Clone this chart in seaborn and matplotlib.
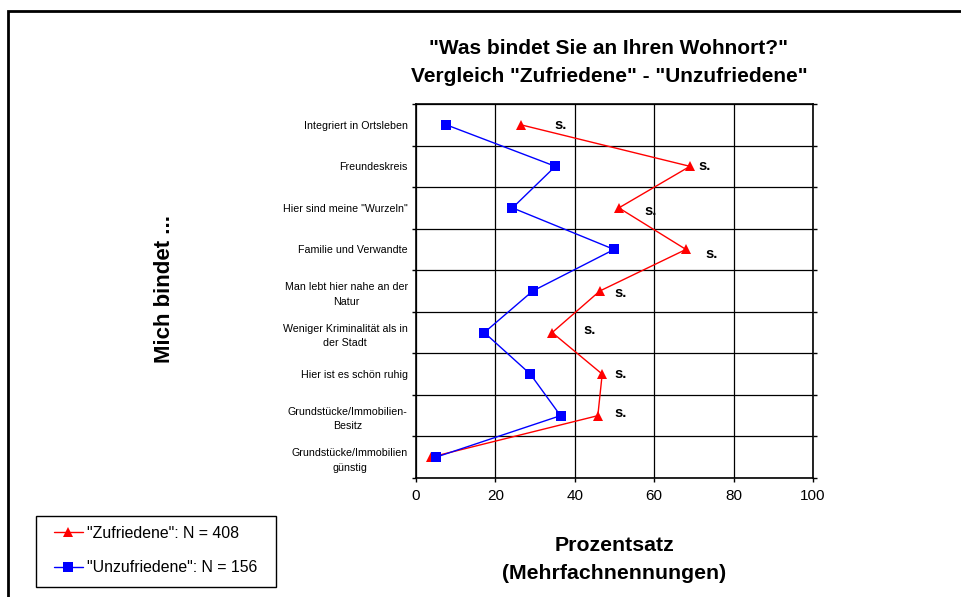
import numpy as np
import pandas as pd
import matplotlib.pyplot as plt
import seaborn as sns
from matplotlib.patches import Rectangle

# data
categories = ["Integriert in Ortsleben", "Freundeskreis", 'Hier sind meine "Wurzeln"',
              "Familie und Verwandte", "Man lebt hier nahe an der\nNatur",
              "Weniger Kriminalität als in\nder Stadt", "Hier ist es schön ruhig",
              "Grundstücke/Immobilien-\nBesitz", "Grundstücke/Immobilien\ngünstig"]
zufriedene = [26.4, 69.0, 51.1, 68.0, 46.3, 34.3, 46.9, 45.8, 3.7]
unzufriedene = [7.6, 35.1, 24.3, 49.9, 29.4, 17.2, 28.8, 36.4, 5.0]
signif = ["s.", "s.", "s.", "s.", "s.", "s.", "s.", "s.", ""]
label_z = '"Zufriedene": N = 408'
label_u = '"Unzufriedene": N = 156'
xticks = [0, 20, 40, 60, 80, 100]

# where the "s." marks sit (left edge in percent, small shift in rows)
sig_x = [34.8, 71.1, 57.5, 72.8, 50.1, 42.1, 50.0, 50.0, 0]
sig_dy = [0.0, 0.0, 0.08, 0.1, 0.05, -0.07, 0.0, -0.07, 0]

sns.set_theme(style="white")
plt.rcParams['font.family'] = ['Liberation Sans', 'DejaVu Sans']
plt.rcParams['text.color'] = 'black'
plt.rcParams['xtick.color'] = 'black'
plt.rcParams['ytick.color'] = 'black'
plt.rcParams['axes.labelcolor'] = 'black'

df = pd.DataFrame({
    "wert": zufriedene + unzufriedene,
    "pos": list(range(len(categories))) * 2,
    "gruppe": [label_z] * len(categories) + [label_u] * len(categories),
})

fig = plt.figure(figsize=(9.62, 5.97), dpi=100)
ax = fig.add_axes([416 / 962, 119 / 597, 397 / 962, 374 / 597])

sns.lineplot(data=df, x="wert", y="pos", hue="gruppe", style="gruppe",
             palette={label_z: "#ff0000", label_u: "#0000ff"},
             markers={label_z: "^", label_u: "s"}, dashes=False,
             estimator=None, sort=False, linewidth=1, markersize=7,
             markeredgewidth=0, ax=ax)

ax.set_xlim(0, 100)
ax.set_ylim(len(categories) - 0.5, -0.5)
ax.set_xticks(xticks)
ax.set_xticklabels([str(t) for t in xticks], fontsize=11)
ax.set_yticks(range(len(categories)))
ax.set_yticklabels(categories, fontsize=7.7)
for lab in ax.get_yticklabels():
    lab.set_multialignment('center')
    lab.set_linespacing(1.6)
ax.set_yticks(np.arange(-0.5, len(categories)), minor=True)
ax.set_xlabel("")
ax.set_ylabel("")

ax.tick_params(axis='y', which='major', length=0, pad=6)
ax.tick_params(axis='y', which='minor', left=True, right=True, direction='out',
               length=3, width=1, color='black')
ax.tick_params(axis='x', which='major', bottom=True, direction='out', length=3,
               width=1, color='black', pad=5)
ax.grid(True, which='minor', axis='y', color='black', linewidth=0.9)
ax.grid(True, which='major', axis='x', color='black', linewidth=0.9)
ax.grid(False, which='major', axis='y')
for sp in ax.spines.values():
    sp.set_color('black')
    sp.set_linewidth(1.2)

for i, s in enumerate(signif):
    if s:
        ax.text(sig_x[i], i + sig_dy[i], s, ha='left', va='center',
                fontsize=10.5, fontweight='bold')

# legend in the lower left corner, box drawn separately
handles, labels = ax.get_legend_handles_labels()
ax.get_legend().remove()
fig.legend(handles, labels, loc='center left',
           bbox_to_anchor=(54 / 962, (597 - 550.5) / 597),
           fontsize=11.4, frameon=False, handlelength=1.8, handletextpad=0.3,
           labelspacing=1.25, borderpad=0, borderaxespad=0)
fig.add_artist(Rectangle((36 / 962, 10 / 597), 240 / 962, 71 / 597, fill=False,
                         edgecolor='black', linewidth=1, transform=fig.transFigure))

# titles
fig.text(609 / 962, (597 - 62.5) / 597,
         '"Was bindet Sie an Ihren Wohnort?"\nVergleich "Zufriedene" - "Unzufriedene"',
         ha='center', va='center', fontsize=15, fontweight='bold', linespacing=1.65)
fig.text(164 / 962, (597 - 289) / 597, "Mich bindet ...", rotation=90,
         ha='center', va='center', fontsize=16, fontweight='bold')
fig.text(614.5 / 962, (597 - 559.5) / 597, "Prozentsatz\n(Mehrfachnennungen)",
         ha='center', va='center', fontsize=15.3, fontweight='bold', linespacing=1.55)

# outer frame of the chart
fig.add_artist(Rectangle((8 / 962, -0.1), 2, (597 - 11) / 597 + 0.1, fill=False,
                         edgecolor='black', linewidth=2, transform=fig.transFigure))

fig.savefig("out.png", dpi=100)
